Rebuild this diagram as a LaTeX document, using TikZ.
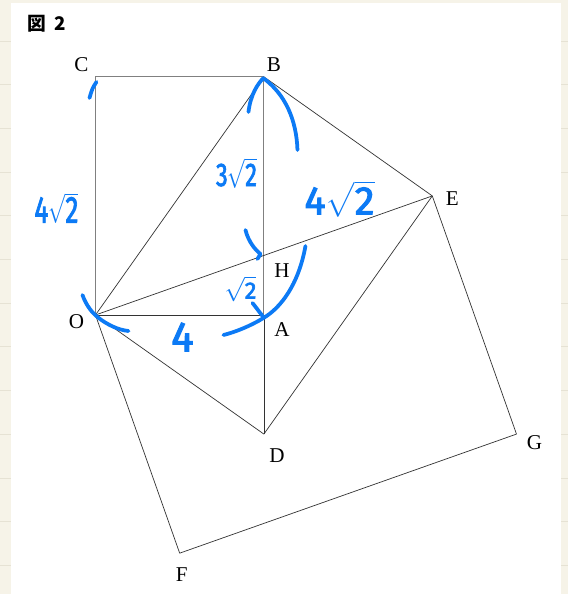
\documentclass[tikz,border=0pt]{standalone}
\usepackage{amsmath}
\usepackage{fontspec}
\setmainfont{Liberation Serif}
\newfontfamily\cjkfont{Noto Sans CJK JP}
\newfontfamily\handfont{Fira Sans}[FakeBold=2.5]
\definecolor{paper}{RGB}{246,243,232}
\definecolor{ruling}{RGB}{230,226,212}
\definecolor{pen}{RGB}{12,122,245}

\begin{document}
\begin{tikzpicture}[x=0.03cm, y=-0.03cm, edge/.style={line width=0.6pt, black!80}, frame/.style={line width=0.9pt, black!50}, lbl/.style={inner sep=0pt, font=\fontsize{18}{18}\selectfont}, ink/.style={pen, line width=3.2pt, line cap=round, line join=round}, hand/.style={pen, inner sep=0pt, transform shape, font=\handfont\fontsize{#1}{#1}\selectfont}]
	\fill[paper] (0,0) rectangle (568,594);
	\foreach \y in {41,84.7,...,590} \draw[ruling, line width=0.8pt] (0,\y) -- (568,\y);
	\fill[white] (11,3) rectangle (561,594);
	\useasboundingbox (0,0) rectangle (568,594);
	\node[anchor=west, inner sep=0pt, font=\cjkfont\bfseries\fontsize{16}{16}\selectfont] (title) at (27,24) {図\hspace{0.45em}2};
	\begin{scope}[shift={(95,315)}, x=1.263cm, y=1.263cm]
		\coordinate (O) at (0,0);
		\coordinate (A) at (4,0);
		\coordinate (B) at (4,{4*sqrt(2)});
		\coordinate (C) at (0,{4*sqrt(2)});
		\coordinate (D) at (4,{-2*sqrt(2)});
		\coordinate (E) at (8,{2*sqrt(2)});
		\coordinate (F) at (2,{-4*sqrt(2)});
		\coordinate (G) at (10,{-2*sqrt(2)});
		\coordinate (H) at (4,{sqrt(2)});
	\end{scope}
	\draw[frame] (O) -- (C);
	\draw[frame] (C) -- (B);
	\draw[frame] (B) -- (A);
	\draw[edge] (A) -- (D);
	\draw[edge] (O) -- (A);
	\draw[edge] (O) -- (B);
	\draw[edge] (O) -- (E);
	\draw[edge] (O) -- (D);
	\draw[edge] (B) -- (E);
	\draw[edge] (E) -- (D);
	\draw[edge] (O) -- (F);
	\draw[edge] (F) -- (G);
	\draw[edge] (G) -- (E);
	\node[lbl] (lC) at ([shift={(-14,-12)}]C) {C};
	\node[lbl] (lB) at ([shift={(10,-12)}]B) {B};
	\node[lbl] (lE) at ([shift={(20,3)}]E) {E};
	\node[lbl] (lH) at ([shift={(18,15)}]H) {H};
	\node[lbl] (lA) at ([shift={(18,15)}]A) {A};
	\node[lbl] (lO) at ([shift={(-19,7)}]O) {O};
	\node[lbl] (lD) at ([shift={(13,22)}]D) {D};
	\node[lbl] (lG) at ([shift={(18,9)}]G) {G};
	\node[lbl] (lF) at ([shift={(2,21)}]F) {F};
	\draw[ink] (96,82) .. controls (92,88) .. (89,98);
	\draw[ink] (248,112) .. controls (250,95) and (257,84) .. (263,78);
	\draw[ink] (264,79) .. controls (285,95) and (296,120) .. (297,150);
	\draw[ink] (245,230) .. controls (248,242) and (255,250) .. (260,254) -- (257,259);
	\draw[ink] (305,246) .. controls (298,285) and (280,308) .. (263,318) .. controls (250,326) and (235,332) .. (223,335);
	\draw[ink] (252,303) .. controls (256,308) .. (262,316);
	\draw[ink] (82,295) .. controls (86,306) and (92,313) .. (97,317) .. controls (107,325) and (118,330) .. (128,331);
	\node[hand=32, xscale=0.7] (len1) at (56,208) {4$\sqrt{\text{2}}$};
	\node[hand=28, xscale=0.72] (len2) at (236,173) {3$\sqrt{\text{2}}$};
	\node[hand=34] (len3) at (339,199) {4$\sqrt{\text{2}}$};
	\node[hand=20] (len4) at (240,289) {$\sqrt{\text{2}}$};
	\node[hand=36] (len5) at (182,337) {4};
\end{tikzpicture}
\end{document}
